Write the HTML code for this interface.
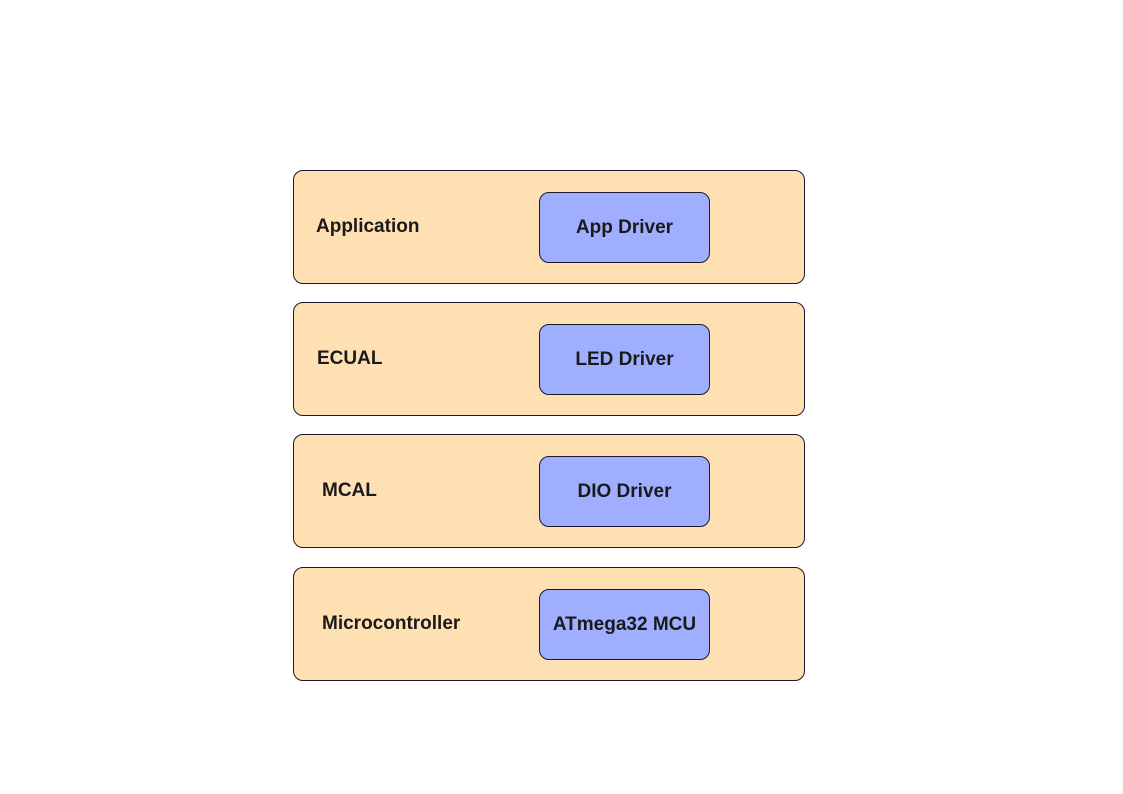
<!DOCTYPE html>
<html><head><meta charset="utf-8"><style>
body{margin:0;width:1123px;height:794px;background:#fff;position:relative;font-family:"Liberation Sans",Arial,sans-serif;overflow:hidden}
.o{position:absolute;left:293px;width:512px;height:114px;background:#ffe0b3;border:1px solid #1a1a2e;border-radius:10px;box-sizing:border-box}
.l{position:absolute;font-weight:bold;font-size:19px;color:#1a1a1a;line-height:20px}
.i{position:absolute;left:539px;width:171px;height:71px;background:#a0aeff;border:1px solid #1a1a2e;border-radius:10px;box-sizing:border-box;display:flex;align-items:center;justify-content:center;font-weight:bold;font-size:19px;color:#1a1a1a}
</style></head><body>
<div class="o" style="top:170px"></div>
<div class="l" style="left:316px;top:217px">Application</div>
<div class="i" style="top:192px">App Driver</div>
<div class="o" style="top:302px"></div>
<div class="l" style="left:317px;top:349px">ECUAL</div>
<div class="i" style="top:324px">LED Driver</div>
<div class="o" style="top:434px"></div>
<div class="l" style="left:322px;top:481px">MCAL</div>
<div class="i" style="top:456px">DIO Driver</div>
<div class="o" style="top:567px"></div>
<div class="l" style="left:322px;top:614px">Microcontroller</div>
<div class="i" style="top:589px">ATmega32 MCU</div>
</body></html>
